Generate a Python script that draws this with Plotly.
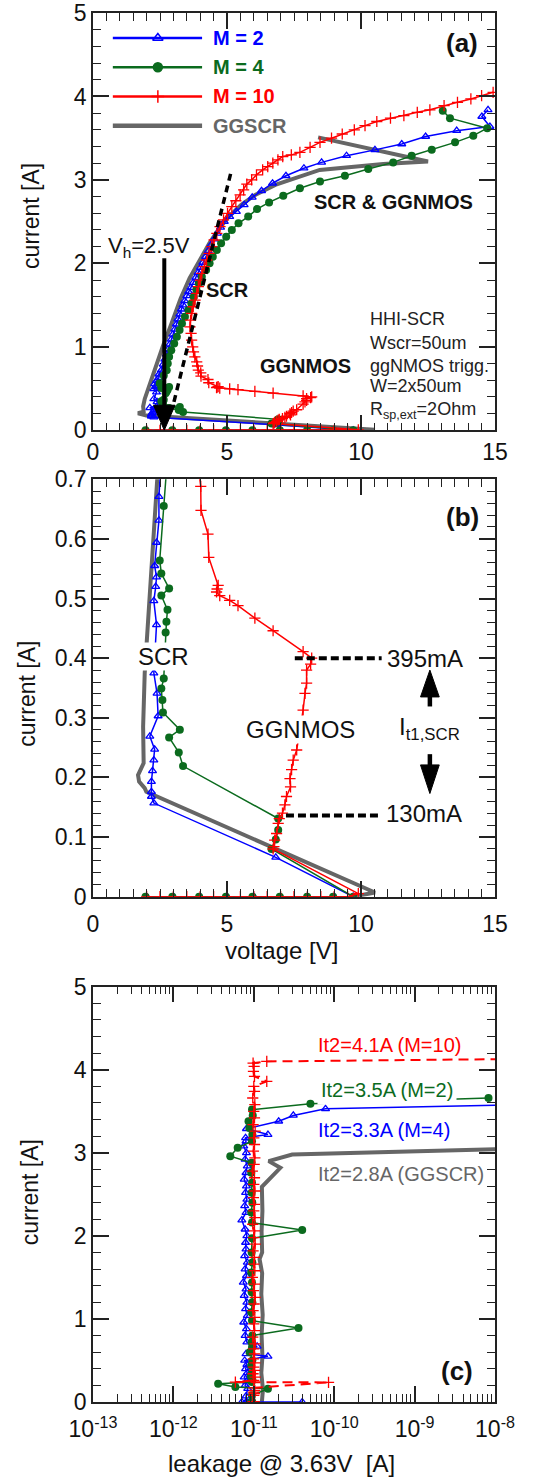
import plotly.graph_objects as go

# ---------------- data: TLP I-V (panels a and b) ----------------
# M = 2 (blue)
v_m2 = [2.0, 3.0, 4.0, 5.0, 6.0, 7.0, 8.0, 9.0, 9.71,
        6.82, 2.27, 2.18, 2.18, 2.18, 2.22, 2.27, 2.30, 2.12, 2.43,
        2.39, 2.27, 2.37, 2.27, 2.34, 2.37, 2.30, 2.37, 2.46, 2.46,
        2.55, 2.62, 2.68, 2.74, 2.80, 2.86, 2.92, 2.98, 3.05, 3.11,
        3.17, 3.24, 3.30, 3.36, 3.42, 3.50, 3.57, 3.65, 3.74, 3.83,
        3.92, 4.01, 4.10, 4.20, 4.30, 4.40, 4.52, 4.64, 4.76, 4.90,
        5.10, 5.35, 5.64, 5.94, 6.29, 6.70, 7.20, 7.87, 8.53, 9.46,
        10.52, 11.52, 12.41, 13.57, 14.81, 14.51, 14.74]
i_m2 = [0, 0, 0, 0, 0, 0, 0, 0, 0,
        0.066, 0.157, 0.168, 0.176, 0.193, 0.211, 0.229, 0.247, 0.269, 0.303,
        0.341, 0.375, 0.456, 0.496, 0.520, 0.536, 0.555, 0.594, 0.631, 0.671,
        0.72, 0.79, 0.85, 0.91, 0.97, 1.03, 1.09, 1.15, 1.21, 1.27,
        1.33, 1.39, 1.45, 1.50, 1.55, 1.61, 1.66, 1.71, 1.77, 1.83,
        1.89, 1.95, 2.01, 2.08, 2.15, 2.22, 2.29, 2.36, 2.43, 2.50,
        2.56, 2.62, 2.70, 2.79, 2.87, 2.96, 3.05, 3.14, 3.21, 3.29,
        3.36, 3.43, 3.52, 3.59, 3.64, 3.76, 3.84]

# M = 4 (green)
v_m4 = [1.96, 2.96, 3.96, 4.96, 5.95, 6.97, 7.99, 8.96, 9.71,
        6.66, 6.82, 6.91, 6.91, 3.36, 3.20, 2.84, 3.24, 2.61, 2.59,
        2.55, 2.64, 2.71, 2.74, 2.78, 2.55, 2.84, 2.55, 2.49, 2.64,
        2.75, 2.79, 2.84, 2.92, 3.03, 3.13, 3.23, 3.32, 3.43, 3.56,
        3.67, 3.76, 3.86, 3.95, 4.06, 4.22, 4.35, 4.47, 4.62, 4.78,
        4.97, 5.18, 5.43, 5.79, 6.12, 6.57, 7.10, 7.72, 8.47, 9.40,
        10.27, 11.20, 11.89, 12.64, 13.51, 14.19, 14.71, 13.32, 13.05]
i_m4 = [0, 0, 0, 0, 0, 0, 0, 0, 0,
        0.080, 0.096, 0.112, 0.131, 0.219, 0.242, 0.267, 0.280, 0.309, 0.330,
        0.349, 0.366, 0.443, 0.461, 0.481, 0.505, 0.517, 0.542, 0.564, 0.655,
        0.72, 0.80, 0.88, 0.96, 1.04, 1.12, 1.20, 1.28, 1.36, 1.44,
        1.52, 1.60, 1.68, 1.76, 1.84, 1.92, 2.00, 2.08, 2.16, 2.24,
        2.32, 2.40, 2.48, 2.56, 2.65, 2.73, 2.81, 2.90, 2.98, 3.05,
        3.13, 3.21, 3.29, 3.36, 3.45, 3.53, 3.62, 3.74, 3.83]

# M = 10 (red)
v_m10 = [2.0, 2.5, 3.0, 3.5, 4.0, 4.5, 5.0, 5.5, 6.0, 6.5, 7.0, 7.5, 8.0, 8.5, 9.0, 9.5, 9.9,
         6.72, 6.75, 6.78, 6.85, 6.91, 6.95, 7.07, 7.16, 7.22, 7.37,
         7.35, 7.41, 7.47, 7.60, 7.84, 7.91, 7.97, 7.97, 8.12, 8.16,
         7.84, 6.72, 6.04, 5.41, 5.10, 4.73, 4.61, 4.63, 4.67, 4.32,
         4.29, 4.03, 4.02,
         3.93, 3.90, 3.87, 3.80, 3.75, 3.72, 3.68, 3.66, 3.62, 3.64,
         3.68, 3.74, 3.81, 3.87, 3.93, 4.00, 4.06, 4.15, 4.24, 4.33,
         4.43, 4.52, 4.62, 4.74, 4.87, 5.02, 5.18, 5.33, 5.49, 5.62,
         5.74, 5.92, 6.10, 6.33, 6.52, 6.71, 6.90, 7.08, 7.40, 7.72,
         8.10, 8.47, 8.90, 9.30, 9.75, 10.15, 10.59, 11.10, 11.60, 12.10,
         12.57, 13.10, 13.60, 14.10, 14.50, 14.93]
i_m10 = [0, 0, 0, 0, 0, 0, 0, 0, 0, 0, 0, 0, 0, 0, 0, 0, 0.005,
         0.080, 0.084, 0.095, 0.106, 0.123, 0.131, 0.140, 0.154, 0.168, 0.184,
         0.198, 0.213, 0.229, 0.246, 0.313, 0.341, 0.358, 0.380, 0.390, 0.400,
         0.411, 0.446, 0.467, 0.488, 0.497, 0.505, 0.511, 0.516, 0.522, 0.569,
         0.608, 0.648, 0.688,
         0.72, 0.77, 0.82, 0.88, 0.94, 1.00, 1.08, 1.16, 1.24, 1.32,
         1.40, 1.48, 1.56, 1.64, 1.72, 1.80, 1.88, 1.96, 2.04, 2.12,
         2.20, 2.28, 2.36, 2.44, 2.52, 2.60, 2.68, 2.75, 2.82, 2.88,
         2.95, 3.00, 3.06, 3.12, 3.16, 3.20, 3.24, 3.28, 3.30, 3.33,
         3.39, 3.45, 3.50, 3.55, 3.60, 3.65, 3.70, 3.74, 3.77, 3.81,
         3.84, 3.89, 3.93, 3.97, 4.01, 4.05]

# GGSCR (gray)
v_gg = [9.71, 10.52, 1.99, 1.93, 1.72, 1.68, 1.89, 1.87, 1.93, 1.99,
        2.30, 2.45, 2.60, 2.93, 3.27, 3.60, 3.97, 4.34, 4.67, 5.07,
        5.52, 6.05, 6.80, 7.60, 8.46, 10.83, 12.50, 8.40]
i_gg = [0.0, 0.007, 0.176, 0.182, 0.193, 0.204, 0.224, 0.285, 0.375, 0.433,
        0.70, 0.86, 1.00, 1.28, 1.58, 1.82, 2.04, 2.24, 2.40, 2.56,
        2.70, 2.82, 2.94, 3.03, 3.12, 3.19, 3.22, 3.51]

# ---------------- data: leakage (panel c) ----------------
leak_m2 = [7.1e-12, 8.2e-12, 4.0e-11, 8.0e-12,
           8.0e-12, 8.4e-12, 7.8e-12, 8.1e-12, 7.6e-12, 8.3e-12, 7.9e-12, 8.2e-12, 7.7e-12, 1.5e-11,
           8.0e-12, 1.1e-11, 8.2e-12, 7.8e-12, 8.1e-12, 7.5e-12, 8.3e-12, 7.9e-12, 8.2e-12, 7.6e-12,
           8.0e-12, 7.4e-12, 8.1e-12, 7.8e-12, 8.3e-12, 7.7e-12, 8.0e-12, 7.9e-12, 8.2e-12, 7.8e-12,
           7.1e-12, 8.0e-12, 7.7e-12, 8.2e-12, 7.9e-12, 8.1e-12, 7.6e-12, 8.0e-12, 8.3e-12, 7.8e-12,
           8.1e-12, 7.5e-12, 8.0e-12, 7.9e-12, 1.5e-11, 8.1e-12, 2.04e-11, 3.1e-11, 7.8e-11, 2.0e-8]
curr_m2c = [0, 0, 0, 0,
            0.07, 0.16, 0.20, 0.25, 0.30, 0.35, 0.40, 0.45, 0.50, 0.55,
            0.58, 0.67, 0.72, 0.80, 0.88, 0.96, 1.04, 1.12, 1.20, 1.28,
            1.36, 1.44, 1.52, 1.60, 1.68, 1.76, 1.84, 1.92, 2.00, 2.08,
            2.19, 2.28, 2.36, 2.44, 2.52, 2.60, 2.68, 2.76, 2.84, 2.92,
            3.00, 3.08, 3.14, 3.18, 3.22, 3.29, 3.38, 3.45, 3.53, 3.58]

leak_m4 = [9.3e-12, 9.6e-12, 9.4e-12,
           9.5e-12, 1.5e-11, 5.9e-12, 3.6e-12, 9.4e-12, 9.6e-12, 9.2e-12, 9.5e-12, 9.3e-12, 9.6e-12,
           8.9e-12, 9.5e-12, 9.4e-12, 9.6e-12, 3.6e-11, 9.5e-12, 9.3e-12, 9.6e-12, 9.4e-12, 9.5e-12,
           9.3e-12, 9.6e-12, 9.4e-12, 9.5e-12, 4.0e-11, 9.5e-12, 9.3e-12, 9.6e-12, 9.4e-12, 9.5e-12,
           9.3e-12, 9.4e-12, 5.1e-12, 6.3e-12, 9.5e-12, 9.6e-12, 8.8e-12, 8.6e-12, 9.7e-12, 9.5e-12,
           5.06e-11, 8.3e-9]
curr_m4c = [0, 0, 0,
            0.08, 0.16, 0.18, 0.22, 0.24, 0.27, 0.31, 0.35, 0.44, 0.50,
            0.60, 0.66, 0.72, 0.80, 0.89, 0.98, 1.08, 1.20, 1.32, 1.44,
            1.56, 1.68, 1.80, 1.97, 2.07, 2.16, 2.28, 2.40, 2.52, 2.64,
            2.76, 2.88, 2.96, 3.06, 3.14, 3.22, 3.30, 3.38, 3.45, 3.52,
            3.59, 3.66]

leak_m10 = [1.02e-11, 9.8e-12, 1.0e-11, 9.9e-12,
            1.0e-11, 1.02e-11, 9.9e-12, 1.03e-11, 1.0e-11, 8.5e-11, 5.9e-12, 1.0e-11, 1.04e-11, 9.8e-12,
            1.02e-11, 1.0e-11, 1.03e-11, 9.9e-12, 1.02e-11, 1.0e-11, 1.04e-11, 9.7e-12, 1.02e-11, 1.0e-11,
            1.03e-11, 9.8e-12, 1.01e-11, 1.04e-11, 9.9e-12, 1.02e-11, 9.6e-12, 1.03e-11, 1.0e-11, 1.02e-11,
            9.8e-12, 1.04e-11, 1.0e-11, 1.02e-11, 9.7e-12, 1.03e-11, 1.0e-11, 1.02e-11, 9.9e-12, 1.03e-11,
            1.0e-11, 1.02e-11, 9.6e-12, 1.01e-11, 1.03e-11, 9.9e-12, 1.02e-11, 1.0e-11, 1.04e-11, 9.8e-12,
            1.02e-11, 1.0e-11, 1.03e-11, 9.7e-12, 1.02e-11, 1.0e-11, 1.45e-11, 1.02e-11, 9.9e-12, 1.01e-11,
            9.8e-12, 1.45e-11, 2.0e-8]
curr_m10c = [0, 0, 0, 0,
             0.08, 0.10, 0.12, 0.14, 0.17, 0.236, 0.24, 0.26, 0.30, 0.34,
             0.38, 0.42, 0.47, 0.52, 0.58, 0.64, 0.70, 0.78, 0.86, 0.94,
             1.02, 1.10, 1.18, 1.26, 1.34, 1.42, 1.50, 1.58, 1.66, 1.74,
             1.82, 1.90, 1.98, 2.06, 2.14, 2.22, 2.30, 2.38, 2.46, 2.54,
             2.62, 2.70, 2.78, 2.86, 2.94, 3.02, 3.10, 3.18, 3.26, 3.34,
             3.42, 3.50, 3.58, 3.66, 3.74, 3.80, 3.86, 3.92, 3.98, 4.04,
             4.08, 4.10, 4.13]

leak_gg = [1.26e-11, 1.3e-11, 1.24e-11, 1.28e-11, 1.25e-11, 1.29e-11, 1.24e-11, 1.27e-11,
           1.18e-11, 1.27e-11, 1.25e-11, 1.28e-11, 1.26e-11, 2.14e-11, 1.53e-11, 3.0e-11, 2.0e-8]
curr_ggc = [0.0, 0.15, 0.35, 0.55, 0.80, 1.05, 1.30, 1.55,
            1.72, 1.80, 2.05, 2.30, 2.59, 2.82, 2.90, 2.98, 3.05]

# ---------------- styling ----------------
BLUE = "#0000ff"
GREEN = "#0b6b1e"
RED = "#ff0000"
GRAY = "#666666"
INK = "#111111"
FRAME = "#222222"
FONT = "Liberation Sans, Arial, Helvetica, sans-serif"

fig = go.Figure()


def series(xa, ya, x, y, color, symbol, size, width, dash=None, mline=1.3, mode="lines+markers"):
    fig.add_trace(go.Scatter(
        x=x, y=y, xaxis=xa, yaxis=ya, mode=mode,
        line=dict(color=color, width=width, dash=dash),
        marker=dict(symbol=symbol, size=size, color=color, line=dict(color=color, width=mline)),
        showlegend=False, hoverinfo="skip"))


for xa, ya in (("x", "y"), ("x2", "y2")):
    series(xa, ya, v_gg, i_gg, GRAY, "circle", 1, 4, mode="lines")
    series(xa, ya, v_m2, i_m2, BLUE, "triangle-up-open", 7, 1.5)
    series(xa, ya, v_m4, i_m4, GREEN, "circle", 8, 1.5, mline=0)
    series(xa, ya, v_m10, i_m10, RED, "cross-thin", 8, 1.5)

series("x3", "y3", leak_gg, curr_ggc, GRAY, "circle", 1, 4, mode="lines")
series("x3", "y3", leak_m2, curr_m2c, BLUE, "triangle-up-open", 7, 1.5)
series("x3", "y3", leak_m4, curr_m4c, GREEN, "circle", 8, 1.5, mline=0)
series("x3", "y3", leak_m10, curr_m10c, RED, "cross-thin", 8, 2, dash="10px,6px")

# legend samples (panel a)
leg_names = ["M = 2", "M = 4", "M = 10", "GGSCR"]
leg_cols = [BLUE, GREEN, RED, GRAY]
leg_sym = ["triangle-up-open", "circle", "cross-thin", None]
leg_y = [4.70, 4.35, 4.00, 3.65]
shapes = []
for name, col, sym, yy in zip(leg_names, leg_cols, leg_sym, leg_y):
    shapes.append(dict(type="line", xref="x", yref="y", x0=0.74, x1=4.07, y0=yy, y1=yy,
                       line=dict(color=col, width=4.5 if sym is None else 2.5)))
    if sym:
        fig.add_trace(go.Scatter(x=[2.42], y=[yy], xaxis="x", yaxis="y", mode="markers",
                                 marker=dict(symbol=sym, size=9, color=col, line=dict(color=col, width=1.5)),
                                 showlegend=False, hoverinfo="skip"))

# dotted guide line (panel a)
shapes.append(dict(type="line", xref="x", yref="y", x0=3.02, y0=0.34, x1=5.17, y1=3.12,
                   line=dict(color="black", width=3.5, dash="7px,5px")))
# Vh arrow (panel a)
shapes.append(dict(type="line", xref="x", yref="y", x0=2.66, x1=2.66, y0=2.06, y1=0.28,
                   line=dict(color="black", width=4)))
shapes.append(dict(type="path", xref="x", yref="y", path="M 2.26 0.30 L 3.06 0.30 L 2.66 0.0 Z",
                   fillcolor="black", line=dict(color="black", width=1)))
# dashed markers (panel b)
shapes.append(dict(type="line", xref="x2", yref="y2", x0=7.53, x1=10.77, y0=0.400, y1=0.400,
                   line=dict(color="black", width=4, dash="8px,4px")))
shapes.append(dict(type="line", xref="x2", yref="y2", x0=7.20, x1=10.71, y0=0.136, y1=0.136,
                   line=dict(color="black", width=4, dash="8px,4px")))
# It1 arrows (panel b)
shapes.append(dict(type="line", xref="x2", yref="y2", x0=12.57, x1=12.57, y0=0.319, y1=0.337,
                   line=dict(color="black", width=4.5)))
shapes.append(dict(type="path", xref="x2", yref="y2", path="M 12.22 0.335 L 12.92 0.335 L 12.57 0.380 Z",
                   fillcolor="black", line=dict(color="black", width=1)))
shapes.append(dict(type="line", xref="x2", yref="y2", x0=12.57, x1=12.57, y0=0.239, y1=0.219,
                   line=dict(color="black", width=4.5)))
shapes.append(dict(type="path", xref="x2", yref="y2", path="M 12.22 0.221 L 12.92 0.221 L 12.57 0.173 Z",
                   fillcolor="black", line=dict(color="black", width=1)))

ann = []


def text(xr, yr, x, y, s, size, color=INK, bold=False, xanchor="center", bg=None, yanchor="middle",
         angle=0, pad=0):
    d = dict(xref=xr, yref=yr, x=x, y=y, text=("<b>%s</b>" % s) if bold else s, showarrow=False,
             font=dict(family=FONT, size=size, color=color), xanchor=xanchor, yanchor=yanchor,
             textangle=angle, borderpad=pad)
    if bg:
        d["bgcolor"] = bg
    ann.append(d)


for name, col, yy in zip(leg_names, leg_cols, leg_y):
    text("x", "y", 4.44, yy, name, 20, color=col, bold=True, xanchor="left")

text("x", "y", 13.77, 4.64, "(a)", 26, bold=True)
text("x", "y", 0.51, 2.20, "V<sub>h</sub>=2.5V", 22, xanchor="left")
text("x", "y", 5.03, 1.68, "SCR", 20, bold=True)
text("x", "y", 11.23, 2.74, "SCR &amp; GGNMOS", 20, bold=True)
text("x", "y", 7.92, 0.77, "GGNMOS", 20, bold=True)
info = ["HHI-SCR", "Wscr=50um", "ggNMOS trigg.", "W=2x50um", "R<sub>sp,ext</sub>=2Ohm"]
info_y = [1.335, 1.047, 0.771, 0.531, 0.24]
for s, yy in zip(info, info_y):
    text("x", "y", 10.30, yy, s, 18, color="#222222", xanchor="left")

text("x2", "y2", 13.77, 0.637, "(b)", 26, bold=True)
text("x2", "y2", 2.64, 0.402, "SCR", 24, bg="white")
text("x2", "y2", 7.75, 0.280, "GGNMOS", 24, bg="white")
text("x2", "y2", 10.95, 0.400, "395mA", 24, xanchor="left")
text("x2", "y2", 10.89, 0.140, "130mA", 24, xanchor="left")
text("x2", "y2", 12.54, 0.282, "I<sub>t1,SCR</sub>", 24)

text("x3", "y3", -8.474, 0.37, "(c)", 26, bold=True)
text("x3", "y3", -10.22, 4.30, "It2=4.1A (M=10)", 20, color=RED, xanchor="left", bg="white")
text("x3", "y3", -10.22, 3.76, "It2=3.5A (M=2)", 20, color=GREEN, xanchor="left", bg="white", pad=3)
text("x3", "y3", -10.22, 3.28, "It2=3.3A (M=4)", 20, color=BLUE, xanchor="left", bg="white")
text("x3", "y3", -10.22, 2.74, "It2=2.8A (GGSCR)", 20, color=GRAY, xanchor="left", bg="white")

# axis titles (paper coordinates, relative to the plotting area)
text("paper", "paper", -0.154, 0.854, "current [A]", 23, angle=-90)
text("paper", "paper", -0.164, 0.510, "current [A]", 23, angle=-90)
text("paper", "paper", -0.157, 0.151, "current [A]", 23, angle=-90)
text("paper", "paper", 0.468, 0.325, "voltage [V]", 24)
text("paper", "paper", 0.470, -0.044, "leakage @ 3.63V\u00a0\u00a0[A]", 24)


def axis(domain, rng, dtick, minor, anchor, **kw):
    d = dict(domain=domain, range=rng, anchor=anchor, showgrid=False, zeroline=False,
             automargin=False, ticklabeloverflow="allow",
             showline=True, linecolor=FRAME, linewidth=1.5, mirror="ticks",
             ticks="inside", ticklen=16, tickwidth=1.5, tickcolor=FRAME,
             tickfont=dict(family=FONT, size=23, color=INK))
    if dtick is not None:
        d["dtick"] = dtick
        d["tick0"] = 0
    m = dict(ticks="inside", ticklen=8, tickwidth=1.3, tickcolor=FRAME, showgrid=False)
    m.update(minor)
    d["minor"] = m
    d.update(kw)
    return d


dec = [-13, -12, -11, -10, -9, -8]
log_vals = [10.0 ** e for e in dec]
log_text = ["10<sup>%d</sup>" % e for e in dec]
log_minor = [m * 10.0 ** e for e in dec[:-1] for m in range(2, 10)]

DA = [0.6996, 1.0]
DB = [0.3638, 0.6643]
DC = [0.0, 0.2990]

fig.update_layout(
    template="none",
    width=542, height=1480,
    margin=dict(l=93, r=47, t=13, b=78, autoexpand=False),
    paper_bgcolor="white", plot_bgcolor="white",
    showlegend=False,
    xaxis=axis([0, 1], [0, 15], 5, dict(dtick=0.5), "y"),
    yaxis=axis(DA, [0, 5], 1, dict(dtick=0.2), "x"),
    xaxis2=axis([0, 1], [0, 15], 5, dict(dtick=0.5), "y2", ticklabelstandoff=6),
    yaxis2=axis(DB, [0, 0.7], 0.1, dict(dtick=0.02), "x2"),
    xaxis3=axis([0, 1], [-13, -8], None, dict(tickmode="array", tickvals=log_minor), "y3",
                type="log", tickmode="array", tickvals=log_vals, ticktext=log_text,
                ticklabelstandoff=6),
    yaxis3=axis(DC, [0, 5], 1, dict(dtick=0.2), "x3"),
    shapes=shapes,
    annotations=ann,
)

# remove the default 8px page margin so the 542x1480 figure fills the window exactly
fig.write_html("out.html", config={"displayModeBar": False},
               post_script="document.body.style.margin='0px';")
